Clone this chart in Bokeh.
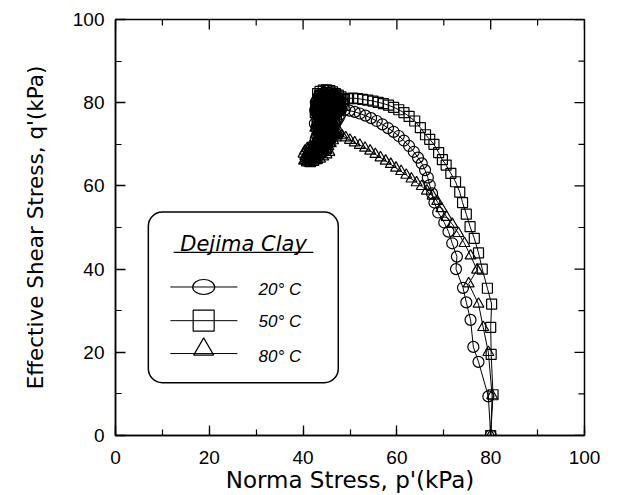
import math
from bokeh.plotting import figure
from bokeh.models import BoxAnnotation, Range1d, SingleIntervalTicker
from bokeh.core.properties import value
from bokeh.embed import file_html
from bokeh.resources import INLINE

# 20 C  (circles)
p20 = [80.0, 79.5, 77.4, 76.3, 75.7, 74.8, 74.1, 72.6, 72.8, 71.8, 71.0, 70.1, 68.8, 68.0, 67.5,
       67.0, 66.6, 66.0, 65.3, 64.5, 63.6, 62.6, 61.5, 60.4, 59.3, 58.1, 56.9, 55.7, 54.5, 53.3,
       52.1, 51.0, 49.9, 48.9, 48.0, 47.2, 46.5, 45.9, 45.3, 44.8, 44.3, 43.9, 43.5, 43.9, 44.5,
       45.1, 45.6, 46.1, 46.6, 46.1, 45.5, 44.9, 44.4, 44.0, 43.6, 44.2, 44.8, 45.3, 45.9,
       46.4, 46.9, 47.3, 46.8, 46.2, 45.6, 45.0, 44.5, 44.1, 43.7, 43.3, 43.0, 43.4, 44.0, 44.6,
       45.2, 45.8, 46.3, 46.8, 47.2, 47.6, 47.9, 47.5, 47.0, 46.4, 45.8, 45.2, 44.6, 44.0, 43.5,
       43.1, 42.8, 42.6, 42.9, 43.3, 43.6,
       42.7, 43.3, 44.0, 44.7, 45.3, 45.8, 46.2, 45.6, 44.9, 44.2, 43.5, 42.9, 42.5, 43.1, 43.8,
       44.5, 45.2, 45.9, 46.6, 47.2, 46.6, 45.9, 45.2, 44.5, 43.8, 43.2, 42.7, 43.3, 44.0, 44.7,
       45.4, 46.0, 46.6, 47.2, 47.7, 48.1,
       43.0, 43.5, 44.0, 44.5, 45.0, 45.5, 46.0, 46.4, 45.9, 45.4, 44.9, 44.4, 43.9, 43.4, 42.9,
       43.2, 43.7, 44.2, 44.7, 45.2, 45.7, 46.2, 46.7, 47.0, 46.5, 46.0, 45.5, 45.0, 44.5, 44.0,
       43.5, 43.0, 43.2, 43.7, 44.2, 44.7, 45.2, 45.7, 46.2, 46.7, 47.2]
q20 = [0.0, 9.4, 17.7, 21.3, 27.8, 32.0, 35.5, 40.0, 43.0, 46.2, 49.0, 51.2, 53.6, 56.0, 58.2,
       60.2, 62.0, 63.8, 65.4, 66.8, 68.2, 69.6, 70.9, 72.0, 73.0, 73.9, 74.8, 75.6, 76.3, 76.9,
       77.4, 77.8, 78.1, 78.3, 78.2, 77.9, 77.5, 77.0, 76.4, 75.8, 75.1, 74.4, 73.7, 73.0, 72.6,
       73.2, 73.9, 74.6, 75.3, 76.0, 76.8, 77.5, 78.2, 78.9, 79.6, 80.2, 79.7, 79.0, 78.4,
       79.2, 78.6, 77.9, 77.2, 76.6, 76.0, 75.4, 74.7, 74.0, 73.3, 72.6, 71.8, 71.1, 71.5, 72.1,
       72.8, 73.5, 74.2, 74.9, 75.6, 76.4, 77.2, 78.0, 78.8, 79.5, 80.1, 80.6, 81.0, 81.2, 80.6,
       79.9, 79.1, 78.2, 77.4, 76.6, 75.8,
       71.4, 71.0, 70.8, 71.0, 71.4, 72.0, 72.7, 73.0, 73.3, 73.6, 73.9, 74.3, 75.0, 75.3, 75.6,
       76.0, 76.3, 76.7, 77.0, 77.4, 77.9, 78.2, 78.5, 78.8, 79.2, 79.6, 80.1, 80.4, 80.8, 81.1,
       81.4, 81.0, 80.4, 79.8, 79.1, 78.5,
       72.2, 72.3, 72.2, 72.4, 72.2, 72.5, 72.3, 73.4, 73.6, 73.5, 73.7, 73.5, 73.7, 73.5, 73.7,
       74.8, 74.9, 74.7, 74.9, 74.7, 74.9, 74.7, 74.9, 76.0, 76.2, 76.0, 76.2, 76.0, 76.2, 76.0,
       76.2, 76.0, 77.4, 77.6, 77.4, 77.6, 77.4, 77.6, 77.4, 77.6, 77.4]

# 50 C  (squares)
p50 = [80.0, 80.5, 80.1, 80.0, 80.2, 79.3, 78.2, 77.4, 76.5, 75.6, 74.8, 74.0, 73.4, 72.5, 71.5,
       70.5, 69.7, 68.9, 67.9, 67.0, 66.1, 65.0, 63.8, 62.6, 61.5, 60.4, 59.3, 58.2, 57.1, 56.0,
       54.9, 53.8, 52.7, 51.6, 50.6, 49.7, 48.8, 48.0, 47.3, 46.6, 46.0, 45.4, 44.9, 44.5, 44.1,
       43.7, 44.3, 44.9, 45.5, 46.1, 46.6, 46.2, 45.6, 45.0, 44.4, 43.9, 43.4, 43.8, 44.4, 45.0,
       45.6, 46.2, 46.8, 46.3, 45.7, 45.1, 44.5, 44.0, 43.6,
       43.2, 43.6, 44.2, 44.9, 45.6, 46.3, 46.9, 47.4, 47.8, 47.4, 46.9, 46.4, 45.9, 45.3, 44.7,
       44.1, 43.6, 43.2, 42.9, 42.7, 42.9, 43.3,
       42.6, 43.2, 43.9, 44.6, 45.3, 46.0, 46.7, 47.4, 48.0, 48.5, 47.9, 47.2, 46.5, 45.8, 45.1,
       44.4, 43.7, 43.1, 43.6, 44.3, 45.0, 45.7, 46.3, 46.9, 47.5, 48.1, 48.7,
       43.0, 43.5, 44.0, 44.5, 45.0, 45.5, 46.0, 46.5, 47.0, 47.5, 47.8, 47.3, 46.8, 46.3, 45.8,
       45.3, 44.8, 44.3, 43.8, 43.3, 43.5, 44.0, 44.5, 45.0, 45.5, 46.0, 46.5, 47.0]
q50 = [0.0, 9.8, 19.5, 26.0, 31.6, 35.4, 40.0, 43.9, 47.4, 50.2, 53.2, 56.0, 58.5, 61.0, 63.0,
       65.0, 66.3, 68.0, 70.0, 71.2, 72.3, 74.0, 75.6, 76.7, 77.6, 78.3, 78.9, 79.4, 79.8, 80.1,
       80.4, 80.6, 80.8, 81.0, 81.1, 81.0, 80.8, 80.6, 80.4, 80.2, 80.0, 79.7, 79.4, 79.9, 80.4,
       80.8, 81.3, 81.6, 81.9, 81.5, 81.0, 80.5, 80.2, 80.6, 81.0, 80.2, 79.6, 78.9, 78.5, 78.9,
       79.2, 79.4, 79.0, 78.4, 78.0, 77.7, 77.4, 77.8, 78.3,
       80.9, 81.6, 82.1, 82.4, 82.3, 81.9, 81.3, 80.7, 80.0, 79.4, 78.8, 78.2, 77.6, 77.0, 76.6,
       76.3, 76.8, 77.5, 78.3, 79.1, 79.9, 80.5,
       77.6, 77.2, 76.9, 77.1, 77.5, 77.9, 78.2, 78.6, 79.0, 79.5, 79.9, 80.2, 80.5, 80.9, 81.2,
       81.5, 81.8, 82.2, 82.7, 83.0, 83.1, 82.9, 82.6, 82.2, 81.8, 81.4, 81.0,
       79.0, 78.8, 79.0, 78.8, 79.0, 78.8, 79.0, 78.8, 79.0, 78.8, 80.2, 80.4, 80.2, 80.4, 80.2,
       80.4, 80.2, 80.4, 80.2, 80.4, 81.6, 81.8, 81.6, 81.8, 81.6, 81.8, 81.6, 81.8]

# 80 C  (triangles)
p80 = [80.0, 80.3, 79.5, 78.4, 77.4, 75.3, 77.1, 75.7, 74.4, 73.1, 71.8, 70.6, 69.5, 68.6, 67.6,
       66.4, 65.3, 64.2, 63.1, 62.0, 60.9, 59.8, 58.7, 57.6, 56.5, 55.4, 54.3, 53.2, 52.1, 51.0,
       50.0, 49.1, 48.3, 47.5, 46.7, 46.0, 45.3, 44.6, 43.9, 43.2, 42.5, 41.8, 41.1, 40.5, 40.9,
       41.6, 42.3, 43.0, 43.7, 44.4, 45.1, 45.6, 45.0, 44.3, 43.6, 43.0, 42.6, 43.1, 43.8,
       44.4, 45.0, 45.6, 46.1, 46.5, 46.2, 45.8, 45.2, 44.7, 44.1, 43.5, 42.9, 42.3, 41.7, 41.1,
       40.6, 41.0, 41.7, 42.4, 43.1, 43.7, 44.3, 44.9, 45.4, 45.9, 46.4, 46.9, 47.3,
       40.2, 40.8, 41.5, 42.2, 42.9, 43.6, 44.3, 45.0, 45.6, 45.0, 44.3, 43.6, 42.9, 42.2, 41.5,
       40.9, 40.4, 40.1, 40.5, 41.2, 41.9, 42.6, 43.3, 44.0, 44.6, 45.2, 45.8, 46.4, 47.0, 47.6,
       41.0, 41.5, 42.0, 42.5, 43.0, 43.5, 43.0, 42.5, 42.0, 41.5, 41.0, 41.3, 41.8, 42.3, 42.8,
       43.3, 43.8, 44.3, 43.8, 43.3, 42.8, 43.5, 44.0, 44.5, 45.0]
q80 = [0.0, 9.6, 20.0, 26.0, 31.6, 36.5, 39.8, 43.2, 46.2, 48.6, 50.8, 52.5, 54.6, 56.3, 57.6,
       58.8, 59.9, 60.8, 61.7, 62.6, 63.5, 64.3, 65.2, 66.0, 66.8, 67.6, 68.4, 69.1, 69.8, 70.4,
       71.0, 71.6, 72.1, 72.6, 72.9, 72.6, 72.0, 71.3, 70.6, 69.9, 69.2, 68.5, 67.8, 67.1, 66.5,
       66.8, 67.3, 67.8, 68.3, 68.9, 69.5, 70.3, 71.0, 71.7, 72.4, 73.1, 73.9, 74.6, 75.2,
       75.7, 75.0, 74.3, 73.6, 72.8, 72.0, 71.2, 70.5, 69.8, 69.1, 68.5, 67.9, 67.4, 67.0, 66.6,
       66.2, 65.8, 66.0, 66.5, 67.0, 67.6, 68.2, 68.8, 69.5, 70.2, 70.9, 71.6, 72.3,
       66.0, 65.6, 65.4, 65.7, 66.1, 66.5, 67.0, 67.5, 68.1, 68.6, 69.0, 69.4, 69.7, 69.9, 69.5,
       69.0, 68.4, 67.7, 67.2, 67.5, 68.0, 68.5, 68.9, 69.6, 70.2, 70.8, 71.4, 72.0, 72.6, 73.2,
       66.3, 66.1, 66.3, 66.1, 66.3, 67.6, 67.8, 67.6, 67.8, 67.6, 67.8, 69.0, 69.2, 69.0, 69.2,
       69.0, 69.2, 70.5, 70.7, 70.5, 70.7, 71.8, 72.0, 71.8, 72.0]

major_ticks = [0, 20, 40, 60, 80, 100]
minor_ticks = [10, 30, 50, 70, 90]

legend_title = "Dejima Clay"
legend_labels = ["20° C", "50° C", "80° C"]
x_label = "Norma Stress, p'(kPa)"
y_label = "Effective Shear Stress, q'(kPa)"

p = figure(width=617, height=495, x_range=Range1d(0, 100), y_range=Range1d(0, 100),
           output_backend="svg", toolbar_location=None,
           min_border_left=115, min_border_right=33, min_border_top=19, min_border_bottom=59)
p.grid.visible = False
p.outline_line_color = "black"
p.outline_line_width = 1.5
p.background_fill_color = "white"
p.border_fill_color = "white"


def style_axis(ax):
    ax.ticker = SingleIntervalTicker(interval=20, num_minor_ticks=2)
    ax.major_tick_in = 10
    ax.major_tick_out = 0
    ax.minor_tick_in = 6
    ax.minor_tick_out = 0
    ax.axis_line_color = "black"
    ax.axis_line_width = 1.5
    ax.major_tick_line_color = "black"
    ax.major_tick_line_width = 1.3
    ax.minor_tick_line_color = "black"
    ax.minor_tick_line_width = 1.2
    ax.major_label_text_font = "Liberation Sans"
    ax.major_label_text_font_size = "19px"
    ax.major_label_text_color = "black"
    ax.axis_label_text_font = "DejaVu Sans"
    ax.axis_label_text_font_style = "normal"
    ax.axis_label_text_color = "black"


style_axis(p.xaxis[0])
style_axis(p.yaxis[0])
p.xaxis[0].axis_label = x_label
p.yaxis[0].axis_label = y_label
p.xaxis[0].axis_label_text_font_size = "23px"
p.yaxis[0].axis_label_text_font_size = "21.5px"
p.xaxis[0].major_label_standoff = 15
p.xaxis[0].axis_label_standoff = 0
p.yaxis[0].major_label_standoff = 11
p.yaxis[0].axis_label_standoff = 22

# inward ticks on the top and right edges of the frame (glyphs are clipped to the frame)
p.scatter(x=[100] * len(major_ticks), y=major_ticks, marker="dash", size=20,
          line_color="black", line_width=1.3)
p.scatter(x=[100] * len(minor_ticks), y=minor_ticks, marker="dash", size=12,
          line_color="black", line_width=1.2)
p.scatter(x=major_ticks, y=[100] * len(major_ticks), marker="dash", size=20, angle=math.pi / 2,
          line_color="black", line_width=1.3)
p.scatter(x=minor_ticks, y=[100] * len(minor_ticks), marker="dash", size=12, angle=math.pi / 2,
          line_color="black", line_width=1.2)

# curves
for xs, ys in [(p20, q20), (p50, q50), (p80, q80)]:
    p.line(xs, ys, line_color="black", line_width=1)
p.scatter(p20, q20, marker="circle", size=11, fill_alpha=0, line_color="black", line_width=1.2)
p.scatter(p50, q50, marker="square", size=10, fill_alpha=0, line_color="black", line_width=1.2)
p.scatter(p80, q80, marker="triangle", size=11, fill_alpha=0, line_color="black", line_width=1.2)

# legend (drawn manually)
box = BoxAnnotation(left=7.0, right=47.5, bottom=12.7, top=53.7, border_radius=14,
                    fill_color="white", fill_alpha=1, line_color="black", line_alpha=1,
                    line_width=1.5, level="underlay")
p.add_layout(box)

p.text(x=[27.3], y=[46.0], text=[legend_title], text_font=value("DejaVu Sans"),
       text_font_style="italic", text_font_size="21px", text_align="center",
       text_baseline="alphabetic", text_color="black")
p.segment(x0=[12.4], y0=[44.0], x1=[42.2], y1=[44.0], line_color="black", line_width=1.3)

row_y = [35.7, 27.6, 19.7]
p.segment(x0=[11.7] * 3, y0=row_y, x1=[26.0] * 3, y1=row_y, line_color="black", line_width=1)
p.ellipse(x=[18.8], y=[row_y[0]], width=22, height=15, width_units="screen", height_units="screen",
          fill_alpha=0, line_color="black", line_width=1.2)
p.scatter(x=[18.8], y=[row_y[1]], marker="square", size=21, fill_alpha=0, line_color="black", line_width=1.2)
p.scatter(x=[18.8], y=[row_y[2] + 1.0], marker="triangle", size=20, fill_alpha=0, line_color="black", line_width=1.2)

p.text(x=[30.5] * 3, y=[35.0, 27.3, 18.9], text=legend_labels, text_font=value("Liberation Sans"),
       text_font_style="italic", text_font_size="17px", text_align="left",
       text_baseline="alphabetic", text_color="black")

open("out.html", "w").write(file_html(p, INLINE))
